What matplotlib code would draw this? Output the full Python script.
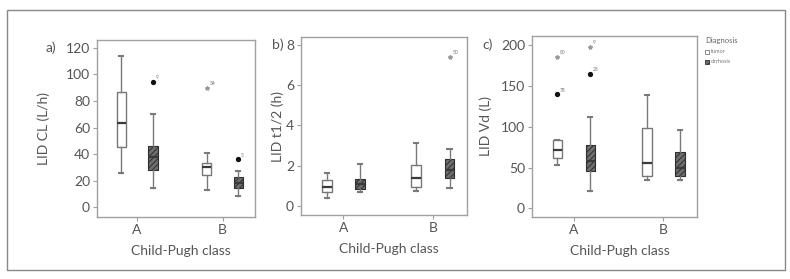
import matplotlib.pyplot as plt
from matplotlib.patches import Rectangle

plt.rcParams['font.family'] = ['Lato', 'DejaVu Sans']
plt.rcParams['hatch.linewidth'] = 0.7

groups = ["A", "B"]
diagnoses = ["tumor", "cirrhosis"]

# box order: A tumor, A cirrhosis, B tumor, B cirrhosis
cl_low = [26, 14, 13, 8.5]
cl_q1 = [45.5, 28, 24, 14]
cl_med = [63.5, 37.5, 30.5, 18.5]
cl_q3 = [87, 46, 33, 22.5]
cl_high = [114, 70, 41, 27]
cl_out = [(1, 94.5, "9", "o"), (2, 90, "34", "*"), (3, 36, "3", "o")]

t_low = [0.41, 0.71, 0.76, 0.91]
t_q1 = [0.71, 0.85, 0.93, 1.38]
t_med = [0.95, 1.09, 1.41, 1.79]
t_q3 = [1.29, 1.34, 2.04, 2.34]
t_high = [1.66, 2.09, 3.15, 2.82]
t_out = [(3, 7.43, "50", "*")]

vd_low = [53, 21.5, 35, 35]
vd_q1 = [62, 46, 39.5, 39.5]
vd_med = [71.5, 58.5, 55, 49]
vd_q3 = [83.7, 77.6, 99, 69]
vd_high = [84, 112, 139, 96]
vd_out = [(0, 139.7, "78", "o"), (0, 185.8, "80", "*"),
          (1, 164.6, "28", "o"), (1, 198, "9", "*")]

positions = [-0.185, 0.185, 0.815, 1.185]
txt = '#555555'
W, H = 790, 279

fig = plt.figure(figsize=(7.9, 2.79), dpi=100)


def px_axes(x0, y0, x1, y1):
    return fig.add_axes([x0 / W, 1 - y1 / H, (x1 - x0) / W, (y1 - y0) / H])


def draw(ax, low, q1, med, q3, high, outs, ylim, yticks, ylabel, ylab_x):
    stats = []
    for i in range(4):
        stats.append(dict(whislo=low[i], q1=q1[i], med=med[i], q3=q3[i],
                          whishi=high[i], fliers=[]))
    bp = ax.bxp(stats, positions=positions, widths=0.11, patch_artist=True,
                showfliers=False, capwidths=0.045, manage_ticks=False)
    for i, box in enumerate(bp['boxes']):
        if i % 2 == 0:
            box.set(facecolor='white', edgecolor='#777777', linewidth=1)
        else:
            box.set(facecolor='#6e6e6e', edgecolor='#2e2e2e', hatch='//////',
                    linewidth=0.8)
    for m in bp['medians']:
        m.set(color='#3a3a3a', linewidth=1.6)
    for w in bp['whiskers']:
        w.set(color='#7a7a7a', linewidth=1)
    for c in bp['caps']:
        c.set(color='#7a7a7a', linewidth=1.5)
    for i, v, lab, kind in outs:
        if kind == "o":
            ax.plot(positions[i], v, 'o', color='#111111', markersize=2.8)
        else:
            ax.plot(positions[i], v, '*', color='#999999', markersize=3)
        ax.annotate(lab, (positions[i], v), xytext=(2, 1.8), textcoords='offset points',
                    fontsize=3.5, color='#777777')
    ax.set_xlim(-0.47, 1.38)
    ax.set_ylim(*ylim)
    ax.set_yticks(yticks)
    ax.set_xticks([0, 1])
    ax.set_xticklabels(groups)
    for s in ax.spines.values():
        s.set_color('#a0a0a0')
        s.set_linewidth(1)
    ax.tick_params(colors='#a0a0a0', labelcolor=txt, labelsize=10, length=3, pad=2)
    ax.set_ylabel(ylabel, color=txt, fontsize=10)
    ax.yaxis.set_label_coords(ylab_x, 0.5)
    ax.set_xlabel("Child-Pugh class", color=txt, fontsize=10)
    ax.xaxis.label.set_va('center')
    ax.xaxis.set_label_coords(0.53, -0.19)


ax1 = px_axes(97, 40, 255, 217)
draw(ax1, cl_low, cl_q1, cl_med, cl_q3, cl_high, cl_out, (-7.5, 126),
     [0, 20, 40, 60, 80, 100, 120], "LID CL (L/h)", -0.30)
ax2 = px_axes(301, 37, 467, 215)
draw(ax2, t_low, t_q1, t_med, t_q3, t_high, t_out, (-0.45, 8.4),
     [0, 2, 4, 6, 8], "LID t1/2 (h)", -0.10)
ax3 = px_axes(532, 36, 697, 217)
draw(ax3, vd_low, vd_q1, vd_med, vd_q3, vd_high, vd_out, (-10.5, 211),
     [0, 50, 100, 150, 200], "LID Vd (L)", -0.24)

for x, y, s in [(46, 48, "a)"), (272, 45, "b)"), (482, 45, "c)")]:
    fig.text(x / W, 1 - y / H, s, color=txt, fontsize=10, va='center')

# legend
fig.text(705 / W, 1 - 41 / H, "Diagnosis", color='#666666', fontsize=5.5, va='center')
legend_faces = [('white', '#777777', None), ('#6e6e6e', '#2e2e2e', '//////')]
for k, name in enumerate(diagnoses):
    y = [51.7, 61.7][k]
    fc, ec, hatch = legend_faces[k]
    fig.add_artist(Rectangle((705 / W, 1 - (y + 2) / H), 4 / W, 4 / H,
                             transform=fig.transFigure, facecolor=fc,
                             edgecolor=ec, hatch=hatch, linewidth=0.6))
    fig.text(711 / W, 1 - y / H, name, color='#777777', fontsize=4, va='center')

# outer frame
fig.add_artist(Rectangle((7 / W, 1 - 270 / H), 778 / W, 260 / H,
                         transform=fig.transFigure, fill=False,
                         edgecolor='#888888', linewidth=1))

fig.savefig("out.png", dpi=100, facecolor='white')
